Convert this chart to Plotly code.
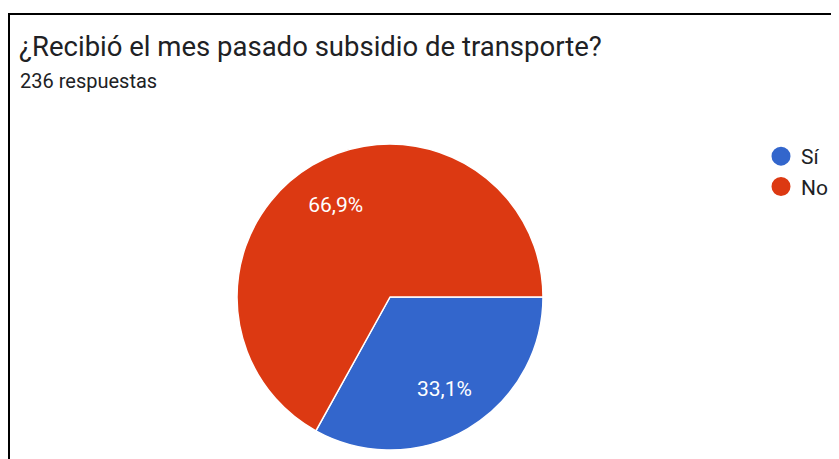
import plotly.graph_objects as go

title_text = "¿Recibió el mes pasado subsidio de transporte?"
subtitle_text = "236 respuestas"
categories = ["Sí", "No"]
counts = [78, 158]
colors = ["#3366cc", "#dc3912"]

# The page body has an 8px margin; positions below are page pixels shifted by OFF.
OFF = 8
W, H = 839 - OFF, 459 - OFF


def px(x):
    return (x - OFF) / W


def py(y):
    return 1 - (y - OFF) / H


pie_domain = dict(x=[px(237), px(543)], y=[py(450), py(144)])

fig = go.Figure()

# Main pie (no text)
fig.add_trace(go.Pie(
    labels=categories,
    values=counts,
    marker=dict(colors=colors, line=dict(color="white", width=1.5)),
    sort=False,
    direction="clockwise",
    rotation=90,
    textinfo="none",
    hoverinfo="skip",
    showlegend=False,
    domain=pie_domain,
))

# Transparent donut overlay that carries the percentage labels at ~0.7 R
fig.add_trace(go.Pie(
    labels=categories,
    values=counts,
    hole=0.4,
    marker=dict(colors=["rgba(0,0,0,0)"] * len(categories), line=dict(width=0)),
    sort=False,
    direction="clockwise",
    rotation=90,
    texttemplate="%{percent:.1%}",
    textposition="inside",
    insidetextorientation="horizontal",
    textfont=dict(color="white", size=21, family="Roboto"),
    hoverinfo="skip",
    showlegend=False,
    domain=pie_domain,
))

for name, col in zip(categories, colors):
    fig.add_trace(go.Scatter(
        x=[None], y=[None], mode="markers", name=name,
        marker=dict(color=col, size=20, symbol="circle", line=dict(color=col, width=3)),
        showlegend=True,
    ))

fig.update_layout(
    width=W, height=H,
    margin=dict(l=0, r=0, t=0, b=0),
    paper_bgcolor="white", plot_bgcolor="white",
    separators=",.",
    font=dict(family="Roboto", color="#202124"),
    xaxis=dict(visible=False), yaxis=dict(visible=False),
    legend=dict(
        x=px(761), y=py(136), xanchor="left", yanchor="top",
        font=dict(size=21, family="Roboto", color="#202124"),
        itemsizing="trace", tracegroupgap=0,
        bgcolor="rgba(0,0,0,0)",
    ),
    annotations=[
        dict(text=title_text, x=px(17), y=py(28), xref="paper", yref="paper",
             xanchor="left", yanchor="top", showarrow=False,
             font=dict(size=27.5, family="Roboto", color="#202124")),
        dict(text=subtitle_text, x=px(18), y=py(67), xref="paper", yref="paper",
             xanchor="left", yanchor="top", showarrow=False,
             font=dict(size=20, family="Roboto", color="#202124")),
    ],
    shapes=[
        dict(type="line", xref="paper", yref="paper", x0=px(8), x1=1, y0=py(14), y1=py(14),
             line=dict(color="black", width=2)),
        dict(type="line", xref="paper", yref="paper", x0=px(9), x1=px(9), y0=0, y1=py(14),
             line=dict(color="black", width=2)),
    ],
)

fig.write_html("out.html")
